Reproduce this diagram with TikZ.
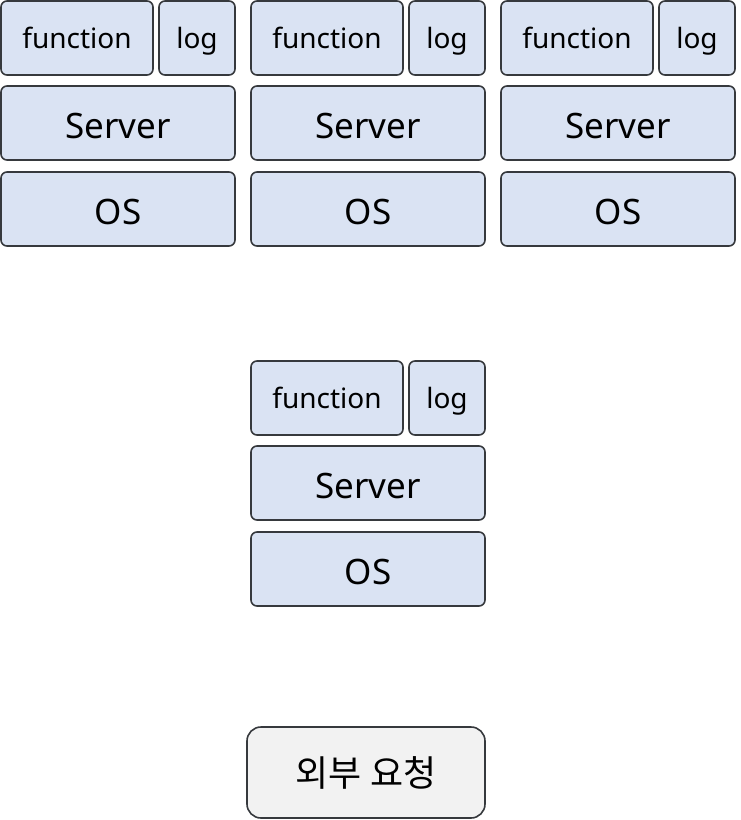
\documentclass[tikz,border=0pt]{standalone}
\usepackage{fontspec}
\setmainfont{Noto Sans}
\newfontfamily\krfont{Noto Sans CJK KR}
\definecolor{boxblue}{HTML}{DAE3F3}
\definecolor{boxgray}{HTML}{F2F2F2}
\definecolor{edge}{HTML}{36393D}
\begin{document}
\begin{tikzpicture}[x=1pt,y=-1pt,
  blk/.style={draw=edge,fill=boxblue,line width=1.6pt,rounded corners=6pt,inner sep=0pt,anchor=center},
  smalltxt/.style={font=\fontsize{28}{32}\selectfont,text height=26pt,text depth=6pt},
  bigtxt/.style={font=\fontsize{35}{40}\selectfont,text height=37pt,text depth=7pt},
  reqbox/.style={draw=edge,fill=boxgray,line width=1.6pt,rounded corners=14pt,inner sep=0pt,font=\krfont\fontsize{36}{42}\selectfont}]
\useasboundingbox (0,0) rectangle (741,820);
\foreach \n/\dx/\dy in {a/0/0, b/250/0, c/500/0, d/250/360}{
  \node[blk,smalltxt,minimum width=152pt,minimum height=74pt] (f\n) at (77+\dx,38+\dy) {function};
  \node[blk,smalltxt,minimum width=76pt,minimum height=74pt] (l\n) at (197+\dx,38+\dy) {log};
  \node[blk,bigtxt,minimum width=234pt,minimum height=74pt] (s\n) at (118+\dx,123+\dy) {Server};
  \node[blk,bigtxt,minimum width=234pt,minimum height=74pt] (o\n) at (118+\dx,209+\dy) {OS};
}
\node[reqbox,minimum width=238pt,minimum height=91pt] (req) at (366,772.5) {외부 요청};
\end{tikzpicture}
\end{document}
